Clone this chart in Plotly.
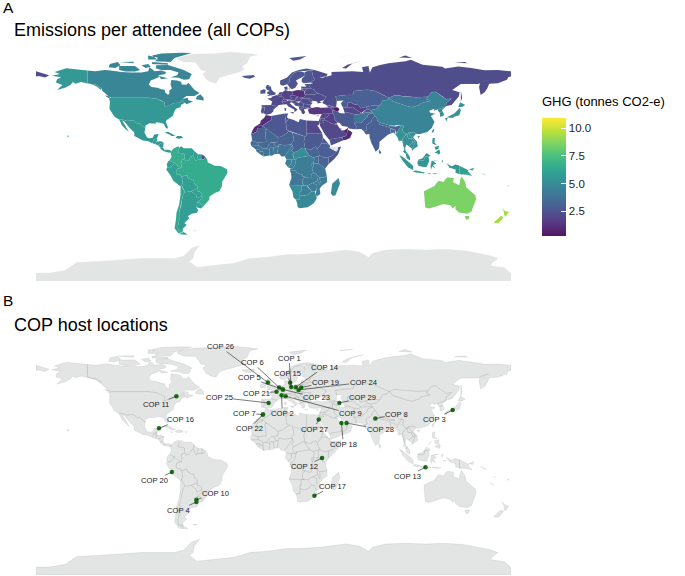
import plotly.graph_objects as go
from plotly.colors import sample_colorscale, sequential, hex_to_rgb

TITLE_A = "Emissions per attendee (all COPs)"
TITLE_B = "COP host locations"
LEGEND_TITLE = "GHG (tonnes CO2-e)"
LEGEND_TICKS = [2.5, 5.0, 7.5, 10.0]
GHG_MIN, GHG_MAX = 0.23, 10.95

COP_NAMES = [f"COP {i}" for i in range(1, 30)]
COP_LON = [13.4, 6.1, 135.8, -58.4, 7.1, 4.3, -8.0, 77.2, 9.2, -58.4, -73.6, 36.8, 115.2, 16.9, 12.6,
           -86.8, 31.0, 51.5, 21.0, -77.0, 2.3, -8.0, 7.1, 19.0, -3.7, -4.25, 34.3, 55.3, 49.9]
COP_LAT = [52.5, 46.2, 35.0, -34.6, 50.7, 52.1, 31.6, 28.6, 45.5, -33.0, 45.5, -1.3, -8.4, 52.4, 55.7,
           21.2, -29.9, 25.3, 52.2, -12.0, 48.9, 31.6, 50.7, 50.3, 40.4, 55.9, 27.9, 25.2, 40.4]

# Estimated GHG per country (tonnes CO2-e); None = no data (grey)
GHG = {
 "Canada":4.7,"USA":5.6,"Mexico":5.6,"Belize":5.6,"Guatemala":5.6,"Honduras":5.6,"Nicaragua":5.7,"CostaRica":5.7,"Panama":5.8,
 "Cuba":5.3,"Hispaniola":5.4,"Greenland":None,"Iceland":2.8,
 "Colombia":6.6,"Venezuela":6.0,"Guyana":5.9,"Suriname":5.9,"FrGuiana":1.8,"Brazil":6.5,"Ecuador":5.8,"Peru":5.9,"Bolivia":5.9,
 "Paraguay":5.9,"Uruguay":6.0,"Argentina":5.8,"Chile":6.3,"Falklands":None,"Antarctica":None,
 "Norway":2.6,"Sweden":2.5,"Finland":2.6,"Denmark":2.2,"UK":2.5,"Ireland":2.6,"France":2.0,"Spain":2.3,"Portugal":2.4,"Belgium":1.9,
 "Netherlands":1.9,"Germany":1.8,"Switzerland":1.9,"Austria":1.9,"Italy":2.1,"Poland":1.1,"Czechia":1.9,"Slovakia":2.0,"Hungary":2.0,
 "Croatia":2.1,"Bosnia":2.2,"Serbia":2.2,"Albania":2.2,"Greece":2.2,"Bulgaria":2.2,"Romania":2.2,"Moldova":2.2,"Ukraine":2.2,
 "Belarus":2.2,"Lithuania":2.1,"Latvia":2.2,"Estonia":2.2,"Turkey":1.4,"Cyprus":1.7,"Russia":2.2,
 "Georgia":1.7,"Armenia":1.5,"Azerbaijan":0.3,"Syria":1.9,"Jordan":1.9,"Israel":1.9,"Iraq":1.7,"Saudi":2.0,"Kuwait":1.7,"Yemen":2.3,
 "Oman":0.9,"UAE":0.7,"Qatar":0.8,"Iran":2.7,"Turkmenistan":2.1,"Uzbekistan":1.7,"Kazakhstan":3.0,"Kyrgyzstan":2.9,"Tajikistan":2.8,
 "Afghanistan":3.9,"Pakistan":2.9,"India":3.0,"Nepal":3.2,"Bhutan":3.8,"Bangladesh":3.6,"SriLanka":3.5,"China":4.6,"Mongolia":3.9,
 "NKorea":4.8,"SKorea":5.2,"Japan":5.3,"Taiwan":5.2,
 "Myanmar":5.4,"Thailand":5.1,"Laos":5.2,"Vietnam":5.2,"Cambodia":5.1,"Malaysia":5.3,"Indonesia":5.5,"PNG":5.9,"Philippines":5.5,
 "Australia":8.6,"Tasmania":8.6,"NZ":9.4,"NewCaledonia":8.8,"Fiji":9.3,"Vanuatu":9.0,"Solomon":8.0,
 "Morocco":1.1,"WSahara":0.9,"Algeria":2.6,"Tunisia":2.4,"Libya":2.6,"Egypt":2.0,"Sudan":2.7,"SSudan":3.2,"Eritrea":2.6,"Ethiopia":2.9,
 "Somaliland":None,"Somalia":2.5,"Kenya":3.1,"Uganda":3.6,"Tanzania":3.9,"Rwanda":3.7,"DRC":4.3,"Congo":4.4,"Gabon":4.4,"Cameroon":4.3,
 "CAR":5.1,"Chad":3.1,"Niger":3.1,"Mali":3.3,"Mauritania":3.1,"Senegal":3.5,"Guinea":3.7,"SierraLeone":3.7,"Liberia":3.7,"Ivory":3.8,
 "Burkina":3.5,"Ghana":3.8,"Benin":3.8,"Nigeria":3.8,"Angola":3.9,"Zambia":4.1,"Malawi":4.1,"Mozambique":4.2,"Zimbabwe":4.2,
 "Botswana":4.4,"Namibia":5.1,"SouthAfrica":4.8,"Madagascar":5.0,
}

# Simplified country outlines: "lon,lat lon,lat ..." for every ring
SHAPES = {
"Canada":["-141,69.6 -135,69 -128,70 -125,69.8 -115,68.5 -108,68 -100,68 -95,69 -94,72 -90,69 -85,69.5 -81.5,68.5 -82,67 -87,66 -87,64.5 -93,62 -94.5,59 -92.5,57 -88,56.5 -85,55.3 -82.5,55 -82,52.9 -80,51.2 -79,52 -79,54.5 -77,56 -78,58.7 -77.5,62.4 -73,62 -70,61 -69.5,59 -66,58.7 -64.5,60.3 -62,57.5 -60,55 -56,52.5 -60,50.2 -66,50.2 -69,48 -65,49 -64.5,47 -61,46 -66,44 -67,45.2 -69,47.2 -71,45.2 -75,45 -79,43.3 -83,42 -82.5,45.3 -84.8,46.7 -88.5,48.2 -95,49 -123,49 -125,50 -130,54.5 -130,56 -135,59 -137.5,59 -141,60.3",
 "-80,73.7 -72,71.5 -68,70 -62,67 -64,63 -68,62.5 -72,64 -78,64.5 -73,66 -72,68 -78,70 -85,70 -89,71 -89,73.5",
 "-117,70 -112,68.8 -105,68.8 -101,70 -105,73 -110,73 -117,73","-90,76.5 -78,76 -75,79 -65,82 -62,82.8 -70,83.1 -85,82.4 -92,81 -88,78",
 "-125,72 -120,71.5 -116,73.5 -118,76 -124,74.5","-92,76 -80,75 -80,74 -92,74.5","-100,73.5 -97,71.5 -93,72.5 -95,74.5","-117,76 -106,75 -106,76.3 -115,76.5",
 "-95,81 -88,79.5 -88,78 -95,78","-59,47.7 -53,46.8 -53,49 -55.5,51.5 -58,50","-87,65.5 -80,63.7 -85,63","-128,50.7 -125,48.7 -123.5,48.5 -125,50.3"],
"USA":["-123,49 -95,49 -88.5,48.2 -84.8,46.7 -82.5,45.3 -83,42 -79,43.3 -75,45 -71,45.2 -69,47.2 -67,45.2 -70,43.7 -70.5,41.7 -74,40.6 -75.5,38 -76,35.5 -78,34 -81,32 -81.5,30.5 -80,26.5 -80.5,25.2 -82,26.5 -83,29 -85,29.7 -89,30.3 -89.5,29.2 -94,29.5 -97,27.8 -97.2,25.9 -99.5,27.5 -101.5,29.8 -103,29 -104.8,30.5 -106.5,31.8 -111,31.3 -114.8,32.5 -117.1,32.5 -120.5,34.5 -122.5,37.5 -124.3,40.3 -124,46 -124.7,48.4",
 "-141,69.6 -141,60.3 -137.5,59 -135,59 -130,56 -131,55 -134,57.5 -138,59.2 -146,60.8 -150,59.5 -152,60.8 -154,58.5 -158,56.5 -164,54.7 -160,58.5 -165,60.5 -164,63 -161,64.5 -168,65.6 -162,67 -166,68.5 -157,71.2 -150,70.5",
 "-156,20.6 -155,19.5 -156,19 -156,20"],
"Mexico":["-117.1,32.5 -114.8,32.5 -111,31.3 -106.5,31.8 -104.8,30.5 -103,29 -101.5,29.8 -99.5,27.5 -97.2,25.9 -97.8,22.3 -95.8,18.8 -94,18.2 -91.5,18.6 -90.5,21 -87,21.5 -88.2,18.4 -89.1,17.8 -91,17.2 -91,16 -92.2,14.6 -95,16 -99,16.6 -105.5,20 -105.5,22.5 -109,26 -113,31 -114.7,31.6 -113,28.5 -110.5,24.5 -109.5,23 -112,25 -115,28 -116,30.5"],
"Belize":["-89.1,17.8 -88.2,18.4 -88.3,16 -89.1,16"],
"Guatemala":["-92.2,14.6 -91,16 -91,17.2 -89.1,17.8 -89.1,16 -88.3,15.7 -89.3,14.4 -90,13.8"],
"Honduras":["-89.3,14.4 -88.3,15.7 -85,16 -83.2,15 -84.7,14.7 -87.5,13 -90,13.8"],
"Nicaragua":["-83.2,15 -83.7,11 -85.7,11 -87.5,13 -84.7,14.7"],
"CostaRica":["-83.7,11 -82.6,9.5 -83,8.3 -85.7,10 -85.7,11"],
"Panama":["-82.6,9.5 -79.5,9.5 -77.3,8.6 -78,7.3 -80,7.5 -83,8.3"],
"Cuba":["-85,22 -80,23.2 -74.2,20.2 -77.5,19.9 -78,20.7 -82.5,22.6"],
"Hispaniola":["-74.4,18.4 -73,20 -70,19.9 -68.4,18.6 -71.5,17.8","-78.3,18.4 -76.3,18.2 -77,17.8","-67.2,18.4 -65.6,18.4 -65.6,18 -67.2,18"],
"Greenland":["-73,78.2 -68,76 -59,75.8 -55,70 -51,69 -53.5,67 -51,63 -48,61 -43.5,60 -41,64 -36,65.8 -26,68.5 -22,70.5 -24,73 -20,75 -18.5,78 -18,80 -12,81.5 -32,83.6 -45,82.2 -60,82 -66,81 -72,79.5"],
"Iceland":["-24,65.5 -22,64 -18,63.4 -14,64.8 -15,66.2 -21,66"],
"Colombia":["-77.3,8.6 -75.5,10.7 -72,12.2 -71.3,11 -72.5,7.5 -70,7 -67.5,6.2 -67.3,2.5 -70,1.7 -69.4,-1 -70,-4.2 -72.9,-2.4 -75.3,-0.1 -77.5,0.4 -78.8,1.4 -77.3,4 -78,7.3"],
"Venezuela":["-71.3,11 -70,12.2 -68,10.6 -64,10.5 -62,10.7 -60,8.5 -60.7,7 -61,5.2 -63,4 -64,1.5 -66.3,0.8 -67.3,2.5 -67.5,6.2 -70,7 -72.5,7.5"],
"Guyana":["-60,8.5 -57.2,6 -57.5,3.4 -57,2 -59,1.3 -60,4 -61,5.2 -60.7,7"],
"Suriname":["-57.2,6 -54,5.9 -54.3,2.3 -57,2 -57.5,3.4"],
"FrGuiana":["-54,5.9 -51.7,4.2 -52.9,2.2 -54.3,2.3"],
"Brazil":["-51.7,4.2 -50,1.7 -50,0 -44.5,-2.6 -40,-2.9 -35.2,-5.3 -34.8,-8 -37,-11.5 -39,-15 -39,-18 -41,-22 -44.5,-23.2 -48.5,-26 -48.7,-28.5 -53.4,-33.7 -55.5,-30.8 -57.6,-30.2 -53.8,-27 -54.6,-25.5 -54.2,-24 -55.7,-22.3 -58,-22 -58,-20 -57.7,-18 -60,-16.3 -60.5,-13.8 -65.3,-11.8 -65.4,-9.8 -70,-11 -70.5,-9.5 -73,-9.4 -74,-7.5 -73,-5 -70,-4.2 -69.4,-1 -70,1.7 -67.3,2.5 -66.3,0.8 -64,1.5 -63,4 -61,5.2 -60,4 -59,1.3 -57,2 -54.3,2.3 -52.9,2.2"],
"Ecuador":["-78.8,1.4 -77.5,0.4 -75.3,-0.1 -75.5,-1.5 -78.5,-4.5 -80.3,-3.4 -81,-2 -80,0.5"],
"Peru":["-80.3,-3.4 -78.5,-4.5 -75.5,-1.5 -75.3,-0.1 -72.9,-2.4 -70,-4.2 -73,-5 -74,-7.5 -73,-9.4 -70.5,-9.5 -70,-11 -69,-12.5 -69,-16 -69.5,-17.5 -70.4,-18.3 -76,-14 -78,-10 -81.3,-5.5"],
"Bolivia":["-70,-11 -65.4,-9.8 -65.3,-11.8 -60.5,-13.8 -60,-16.3 -57.7,-18 -58,-20 -62.5,-22 -67,-22.8 -68.5,-20 -69.5,-17.5 -69,-16 -69,-12.5"],
"Paraguay":["-58,-20 -58,-22 -55.7,-22.3 -54.2,-24 -54.6,-25.5 -58,-27.3 -58.6,-25 -62.5,-22"],
"Uruguay":["-57.6,-30.2 -55.5,-30.8 -53.4,-33.7 -55,-35 -58.4,-34"],
"Argentina":["-67,-22.8 -62.5,-22 -58.6,-25 -58,-27.3 -54.6,-25.5 -53.8,-27 -57.6,-30.2 -58.4,-34 -57,-36.5 -58,-38.3 -62,-39 -65,-41 -63.8,-42.5 -67.5,-46 -65.8,-47.5 -69,-50.5 -68.4,-52.3 -72,-52 -72.5,-49 -71.5,-44 -71.5,-38 -70,-33 -69.5,-29 -68.5,-24.5",
 "-68.6,-52.7 -65,-54.8 -68.6,-54.9"],
"Chile":["-70.4,-18.3 -69.5,-17.5 -68.5,-20 -67,-22.8 -68.5,-24.5 -69.5,-29 -70,-33 -71.5,-38 -71.5,-44 -72.5,-49 -72,-52 -68.4,-52.3 -72,-54 -75,-50 -74,-44 -73.5,-38 -71.5,-32 -70.5,-25",
 "-69,-52.7 -68.6,-54.8 -71.5,-54.5"],
"Falklands":["-61,-51.8 -58,-51.5 -58.5,-52.2 -60.5,-52.3"],
"Antarctica":["-180,-84 -170,-84 -158,-82 -149,-76 -130,-75 -115,-74 -101,-73 -90,-73 -75,-73 -68,-71 -62,-65 -56,-63 -60,-68 -61,-73 -64,-75 -58,-79.6 -45,-78 -30,-76.6 -18,-73 -5,-72 10,-70 20,-70 35,-69 45,-67.5 55,-66.5 65,-68 72,-72 75,-69 85,-66.5 100,-66 115,-66.5 130,-66 145,-67 155,-69 165,-71 170,-73 165,-77 165,-78.5 175,-80 180,-84.5 180,-90 -180,-90"],
"Norway":["5,59 7,58 10.5,59.2 12,61 12,63.5 14.5,66 16,68 20,69 25,69 29,69.5 31,70 25,71 19,70 14,68 10,64 5,62","12,79 25,80.5 20,78 15,77"],
"Sweden":["12,61 10.5,59.2 12.5,56.3 14,55.4 16.5,56.5 18.5,59.5 17,62 21,64.5 24,65.8 23.5,68 20,69 16,68 14.5,66 12,63.5"],
"Finland":["24,65.8 21.5,63.5 21.3,61 23,60 28,60.5 31.5,62.8 30,65 29,69.5 25,69 23.5,68"],
"Denmark":["8,57 10.5,57.5 10.8,55 8.6,54.9","11.2,55.7 12.5,56 12.3,55"],
"UK":["-5.5,50.1 1.3,51.2 1.7,52.7 0,53.5 -1.5,55 -2,57.5 -4,57.8 -3,58.6 -5,58.6 -6,56.5 -4.8,55 -3,54 -4.8,53.2 -4.8,52 -3,51.4"],
"Ireland":["-10,52 -6.3,52.2 -6,54 -5.6,54.8 -7.5,55.3 -10,54.2"],
"France":["-1.8,43.4 -1,46 -4.7,48.3 -1.5,48.7 -1.5,49.7 2.5,51 4.2,50 6,50 8.2,49 7.6,47.6 6.2,46.3 7.6,43.8 4,43.4 3.1,42.5"],
"Spain":["-9.2,43.2 -1.8,43.4 3.1,42.5 0,40 0,38.7 -2,36.8 -5.5,36 -7.5,37.2 -7,39.5 -6.5,41.5 -7,42 -8.8,42"],
"Portugal":["-8.8,42 -7,42 -6.5,41.5 -7,39.5 -7.5,37.2 -9,37 -9.5,38.7"],
"Belgium":["2.5,51 3.4,51.4 5.8,51.1 6,50 4.2,50"],
"Netherlands":["3.4,51.4 4.7,53 7,53.3 6,51.8 5.8,51.1"],
"Germany":["6,51.8 7,53.3 9,54.8 11,54 14.2,53.9 14.8,51 12.2,50.3 13.8,48.7 13,47.5 7.6,47.6 8.2,49 6,50 5.8,51.1"],
"Switzerland":["6.2,46.3 7.6,47.6 10,47.5 10.3,46.5 8.5,46"],
"Austria":["9.6,47.5 13,47.5 13.8,48.7 17,48.7 16.2,46.8 12,46.8"],
"Italy":["6.2,46.3 7.6,43.8 10,44 11,42.4 15.7,40 16,38 18.3,40 16.8,41 13.7,43.5 12.3,45 13.7,45.6 13.5,46.5 12,46.8 10.3,46.5 8.5,46","12.5,38 15.5,38.2 15,36.7","8.2,41 9.7,41 9.5,39 8.5,39"],
"Poland":["14.2,53.9 18.5,54.8 23,54.3 24,50.6 22.5,49.1 19,49.4 14.8,51"],
"Czechia":["12.2,50.3 14.8,51 19,49.4 17,48.7 13.8,48.7"],
"Slovakia":["17,48.7 19,49.4 22.5,49.1 22,48.3 18,47.8"],
"Hungary":["16.2,46.8 17,48.7 18,47.8 22,48.3 20.3,46.2 17,45.9"],
"Croatia":["13.5,46.5 16.2,46.8 17,45.9 19.3,45 16,45 16,43.5 18.5,42.4 14.5,45.2 13.7,45.6"],
"Bosnia":["16,45 19.3,45 19.3,43 18.5,42.4 16,43.5"],
"Serbia":["19.3,45 20.3,46.2 22.7,44.3 22.5,42.3 20.5,42 18.5,42.4 19.3,43"],
"Albania":["19.4,42 20.5,42 22.5,42.3 23,41.2 20.8,40.8 20,39.7 19.4,40.5"],
"Greece":["20,39.7 20.8,40.8 23,41.2 26.3,41.5 26,40.8 23,40.2 24,38 23,36.5 21.5,37 21,38.8","23.5,35.5 26.2,35.2 24.8,34.9"],
"Bulgaria":["22.5,42.3 22.7,44.3 28.5,43.7 27.8,42 26.3,41.5 23,41.2"],
"Romania":["20.3,46.2 22,48.3 26.5,48.2 28.2,45.5 29.7,45.2 28.5,43.7 22.7,44.3"],
"Moldova":["26.5,48.2 28,48.2 30,46.4 28.2,45.5"],
"Ukraine":["24,50.6 24,51.6 30.8,51.4 34,52.3 40,49.6 38.2,47.1 35,46.3 36.5,45.3 33.5,44.5 33,46 30.7,46.5 30,46.4 28,48.2 26.5,48.2 22,48.3 22.5,49.1"],
"Belarus":["24,51.6 23.5,53.9 26,55.7 28,56.2 31,55 32,53 34,52.3 30.8,51.4"],
"Lithuania":["21,56 26,55.7 23.5,53.9 23,54.3 22,55.2 21,55.3"],
"Latvia":["21,56 21,57.5 24.3,57.2 25,58 27.5,57.6 28,56.2 26,55.7"],
"Estonia":["23.5,59.2 28,59.5 27.5,57.6 25,58 24.3,58"],
"Turkey":["26,40 27,37 30.5,36.3 36,36.7 36.7,36.8 42.5,37.2 44.7,37.2 44.6,39.7 43.5,41.1 41.5,41.5 36,41.3 33,42 29,41.2","26.3,41.7 28,42 29,41.2 26.5,40.5"],
"Cyprus":["32.3,35 34.5,35.6 33.8,34.8"],
"Russia":["38.2,47.1 40,49.6 34,52.3 32,53 31,55 28,56.2 27.5,57.6 28,59.5 30,60 28,60.5 31.5,62.8 30,65 29,69.5 31,70 33,69.4 41,67 40,65 35,64.5 37,64 40,64.7 44,66 44,68.5 54,68.8 60,69 68,68.5 67,72 72,73 73,68 75,72 80,73.5 87,75 100,76.5 104,77.7 113,74 128,72.5 130,71 140,72.7 150,71.5 160,69.7 170,70 180,69 180,65 178,64.7 177,62.5 170,60 163.5,59.5 162,56 160,53 157,51 155.8,56.8 156.7,61 163,62.3 155,59.4 142,59.3 135.5,54.7 141,53 140.5,50 135,43.5 131,42.7 130.7,42.3 131,45 135,48.4 131,47.7 127.5,50 123,53.5 120,53 117,49.6 108,49.3 98,50 92,50.8 87.5,49 83,51 77,54 71,55 61,54 60,51 55,51 47,50 48,46.5 47.5,42 48.5,41.8 47.5,41.2 46.5,41.8 44,42.6 40,43.5 37,45",
 "-180,69 -175,67.5 -170,66 -173,64.3 -178,65.5 -180,65","52,71.5 56,74 68,77 60,75 55,71","95,79.5 105,79 100,81","50,80 60,81 55,81","142,54 143,49 142,46 142,50","137,75.5 147,75 145,76","20,54.3 23,54.3 22,55.2 21,55.3"],
"Georgia":["40,43.5 44,42.6 46.5,41.8 45,41.2 43.5,41.1 41.5,41.5"],
"Armenia":["43.5,41.1 45,41.2 46.5,39 44.6,39.7"],
"Azerbaijan":["45,41.2 46.5,41.8 47.5,41.2 48.5,41.8 50,40.3 49,38.4 46.5,39"],
"Syria":["36.7,36.8 42.5,37.2 41,34.5 38.8,33.4 36,33 35,33.2 35.8,35"],
"Jordan":["36,33 38.8,33.4 39,32 37,31.5 38,30 35,29.5 35.5,32.5"],
"Israel":["35,33.2 36,33 35.5,32.5 35,29.5 34.3,31.3"],
"Iraq":["42.5,37.2 44.7,37.2 46,35.5 46,33 48.5,30 47.7,30 46.5,29 44.5,29.2 39,32 38.8,33.4 41,34.5"],
"Kuwait":["46.5,29 47.7,30 48.4,28.5"],
"Saudi":["35,29.5 38,30 37,31.5 39,32 44.5,29.2 46.5,29 48.4,28.5 50,26 50.8,24.8 51.6,24 55.2,22.7 55.7,22 55,20 52,19 49,18.5 43.5,17.5 42.7,16.5 39,21 37,25 35,28"],
"Yemen":["43.5,17.5 49,18.5 52,19 53,16.7 45,12.8 43.5,12.7 42.7,16.5"],
"Oman":["52,19 55,20 55.7,22 56.3,24.8 59.8,22.5 58,18.5 55,17 53,16.7"],
"UAE":["51.6,24 55.2,22.7 55.7,22 56.3,24.8 56.4,26.1 54,24.2"],
"Qatar":["50.8,24.8 51.5,25 51.2,26.1 50.8,25.7"],
"Iran":["44.6,39.7 46.5,39 49,38.4 50,37.4 54,37 54,37.3 56,38 61,36.5 61,31.5 61,29.5 63,27 61.5,25 57,25.7 56,27 52,27.5 50,30 48.5,30 46,33 46,35.5 44.7,37.2"],
"Turkmenistan":["52.5,41.7 56,41.3 57,41.3 60,42 61,41 66.5,37.4 64.5,36 61,36.5 56,38 54,37.3 53.5,39.5"],
"Uzbekistan":["56,45 58.5,45.5 61,44 64.5,43.5 66,41 70,42 71,40.5 68,38 66.5,37.4 61,41 60,42 57,41.3 56,41.3"],
"Kazakhstan":["47,50 55,51 60,51 61,54 71,55 77,54 83,51 87.5,49 85.5,47 83,47 80.5,42.9 75,43 70,42 66,41 64.5,43.5 61,44 58.5,45.5 56,45 56,41.3 52.5,41.7 51,44.5 53,46.8 48,46.5"],
"Kyrgyzstan":["70,42 75,43 80.5,42.9 78,40.5 73.5,39.5 71,40.5"],
"Tajikistan":["68,38 71,40.5 73.5,39.5 75,37.4 71,38 68,37.2"],
"Afghanistan":["61,36.5 64.5,36 66.5,37.4 68,37.2 71,38 75,37.4 71.5,36 71,34 69.5,33 66.5,30 61,29.5 61,31.5"],
"Pakistan":["61,29.5 66.5,30 69.5,33 71,34 71.5,36 75,37.4 77,35 74.5,32.5 74.5,31 70,28 71,24.5 68.5,23.5 66.5,25.2 61.5,25 63,27"],
"India":["74.5,32.5 77,35 78.5,33 78.7,31.5 81,30 80,28.7 88,26.4 88.2,27.9 88.8,27.5 92,26.9 97,28.3 95,25 93.3,22 92.3,24.5 89.8,25.3 88.7,26 88.5,24.5 89,21.8 87,21 85,19.5 80.3,15.5 80.3,13 79.8,10.3 77.5,8 76,11 74,15 72.8,19 72.7,21.5 70,21 68.5,23.5 71,24.5 70,28 74.5,31"],
"Nepal":["81,30 80,28.7 88,26.4 88.2,27.9"],
"Bhutan":["88.8,27.5 92,26.9 92,28"],
"Bangladesh":["88.5,24.5 88.7,26 89.8,25.3 92.3,24.5 92.3,21 91,22.5 89,21.8"],
"SriLanka":["80,9.7 81.8,7.5 80.5,6 79.8,8"],
"China":["73.5,39.5 78,40.5 80.5,42.9 83,47 85.5,47 87.5,49 91,46 95.5,44.3 101,42.6 105,41.7 111,43.7 111.5,44.8 119,46.7 116,47.8 117,49.6 120,53 123,53.5 127.5,50 131,47.7 135,48.4 131,45 130.7,42.3 128,41.5 124.3,40 121.5,39 122,40.5 118,39 119,37.3 122.5,37 119.3,35 122,30.8 120,26 116.5,23 110.5,21.2 108,21.6 106.5,22.9 102,22.4 101.7,21.2 99.5,22 97.6,24 98.7,27.5 97,28.3 92,28 88.8,27.5 88.2,27.9 81,30 78.7,31.5 78.5,33 77,35 75,37.4","109,19.7 111,20 110,18.3"],
"Taiwan":["121,25 122,25 120.8,22 120,23.5"],
"Mongolia":["87.5,49 92,50.8 98,50 108,49.3 117,49.6 116,47.8 119,46.7 111.5,44.8 111,43.7 105,41.7 101,42.6 95.5,44.3 91,46"],
"NKorea":["124.3,40 128,41.5 130.7,42.3 127.5,39.5 128.3,38.5 126,37.8 125,38.5"],
"SKorea":["126,37.8 128.3,38.5 129.4,36 128,34.8 126.3,34.6"],
"Japan":["131,34 135,35.7 137,37 140,40 141.3,41.4 142,39.5 140.8,35.7 137,34.6 135.5,33.6 132.5,34","130,33.5 132,33.5 131,31","140,42 141.5,45.5 145.3,43.5 143,42"],
"Myanmar":["92.3,21 93.3,22 95,25 97,28.3 98.7,27.5 97.6,24 99.5,22 101.2,21.2 100,20.3 97.7,17.5 98.7,14 99.2,10 98.5,12 97.5,16.5 95,16 94.3,18.5"],
"Thailand":["100,20.3 101.2,21.2 102,18 104.5,18 105.6,15 102.5,12.2 100.8,13.4 99.8,11 100,9 101.8,6.5 100.2,6.4 98.3,8 99.2,10 98.7,14 97.7,17.5"],
"Laos":["101.2,21.2 101.7,21.2 102,22.4 105,19 107.5,15.5 105.6,15 104.5,18 102,18"],
"Vietnam":["102,22.4 106.5,22.9 108,21.6 105.8,19 108.8,15.5 109.3,12 106.7,10.4 105,8.7 104.8,10.4 106,11.5 107.5,15.5 105,19"],
"Cambodia":["102.5,12.2 105.6,15 107.5,15.5 106,11.5 104.8,10.4"],
"Malaysia":["100.2,6.4 101.8,6.5 103.4,4 103.5,1.4 101,3","109.6,1.9 113,3 116,7 119,5 117.5,4.2 115,4.5 114,1.5 110,1"],
"Indonesia":["109.6,1.9 110,1 114,1.5 115,4.5 117.5,4.2 118,1 116,-3.5 114,-3.5 110,-2.8 109,-0.5","95.3,5.6 98,4 103.5,-0.5 106,-3 105.8,-5.8 102,-4 98,1","105.2,-6.8 108,-6.2 114.5,-7.8 114.3,-8.6 108,-7.8",
 "119.8,1 125,1.5 121,0.5 123.5,-0.9 121,-2 122.7,-5 120.3,-3 119.5,-5.5 119,-3","116,-8.4 119,-8.3 119,-9","120,-8.5 125,-8.3 122,-9","123.5,-10 127,-8.5 124.5,-9","131,-0.8 135,-3 138,-1.7 141,-2.6 141,-9 138,-8 138,-5.5 133,-4 132.8,-3","127.5,1.5 128.5,1.3 128,-0.8","128,-3.2 130.8,-3.5 128.5,-3.5"],
"PNG":["141,-2.6 145,-4.5 147.7,-6 147.5,-7 150.5,-10.4 147,-9.5 143.5,-9 141,-9","148,-5.5 152,-4.2 151,-6.2"],
"Philippines":["120.3,16 120.7,18.5 122.3,18.4 122,15 124,13 121.7,13.8 120.5,14","122,7 125.5,9.8 126.5,7.5 125.5,5.8 124,6.8","122,11.5 125.5,12.5 125,10.2 123,9.3","117.2,8.4 119.5,11.3 119,10"],
"Australia":["114,-22 114.2,-26 115,-34.2 118,-35 124,-33 129,-31.6 134,-32.5 136,-35 138,-33 137.8,-35.5 140.5,-38 144,-38.5 146.5,-39 150,-37.5 151.5,-33 153.5,-28 153,-25 149.5,-22 146,-19 145.3,-15 142.5,-10.8 141.5,-13 140.8,-17.5 136,-15 136.8,-12.2 132,-11.3 130,-13 129,-15 125,-14 122,-18 117,-20.5"],
"Tasmania":["145,-40.8 148.2,-40.8 148,-43 146,-43.5"],
"NZ":["173,-34.5 175.5,-37 178.5,-37.7 175.5,-41.5 174.8,-39.5 174.5,-37","172.7,-40.6 174.3,-41.7 172.8,-43.7 170.5,-46 167,-46.2 168,-44.5"],
"NewCaledonia":["164,-20 167,-22.3 166,-22"],
"Fiji":["177.3,-17.5 178.7,-17.5 178,-18.3"],
"Vanuatu":["167,-15 168,-16.5 167,-16"],
"Solomon":["157,-8 160,-9 161,-10"],
"Morocco":["-5.9,35.8 -2,35 -1.2,32.5 -5,30 -8.7,27.7 -13,27.7 -10,29.5 -9.7,31.5 -7,33.7"],
"WSahara":["-13,27.7 -8.7,27.7 -8.7,26 -12,26 -13,23 -17,21.3 -16,24 -14.5,26.5"],
"Algeria":["-2,35 8.5,37 9,33 9.5,30 10,24.5 12,23.5 5.8,19.4 3.3,19 -4.8,25 -8.7,27.7 -5,30 -1.2,32.5"],
"Tunisia":["8.5,37 11,37 10.2,34 11.5,33.2 9.5,30 9,33"],
"Libya":["11.5,33.2 15,32.3 19,30.3 20,32.8 25,31.6 25,20 24,19.5 14.2,22.6 12,23.5 10,24.5 9.5,30"],
"Egypt":["25,31.6 34.3,31.3 34.9,29.5 34,27.8 33,28.5 35.5,24 36.9,22 25,22"],
"Sudan":["25,22 36.9,22 37.5,18.7 36.4,14.3 34,11 33,10 32,12 28,9.5 24,10.5 23,15.7 24,19.5 25,20"],
"SSudan":["24,10.5 28,9.5 32,12 33,10 34,8.5 35,5 30,3.6 27.5,5 24.5,8.7"],
"Eritrea":["36.4,14.3 37.5,18.7 43,12.6 40,14.5"],
"Ethiopia":["36.4,14.3 40,14.5 43,12.6 42.5,11 48,8 44.9,5 41.8,4 39,3.5 35,5 34,8.5 33,10 34,11"],
"Somaliland":["42.5,11 43.3,11.5 48.9,11.4 48.9,9.5 48,8"],
"Somalia":["48.9,11.4 51.2,11.9 49,6 46,2.5 41.5,-1.7 41.8,4 44.9,5 48,8 48.9,9.5"],
"Kenya":["35,5 39,3.5 41.8,4 41.5,-1.7 39.2,-4.7 37.7,-3.6 34,-1 34,4"],
"Uganda":["30,3.6 35,5 34,4 34,-1 30,-1.2 31,2.3"],
"Tanzania":["30,-1.2 34,-1 37.7,-3.6 39.2,-4.7 39.5,-6.5 40.4,-10.4 37.5,-11.7 34.7,-11.5 33,-9.5 30.5,-8.2 29.5,-6 29.2,-4.4 30.5,-3"],
"Rwanda":["29,-1.2 30,-1.2 30.5,-3 29.2,-4.4"],
"DRC":["12.3,-6 13,-4.7 14.5,-4.5 16.2,-2 17.5,3.5 18.5,3.5 22,4 27.5,5 30,3.6 31,2.3 30,-1.2 29,-1.2 29.2,-4.4 29.5,-6 30.5,-8.2 28.5,-9.5 28.5,-12 25,-11.8 24,-11 22,-11 22,-9.5 17.5,-8 16.5,-6"],
"Congo":["11.2,-4 13,-4.7 14.5,-4.5 16.2,-2 17.5,3.5 18.5,3.5 16,2 13.3,2.2 14,-1 12,-2.5"],
"Gabon":["9.5,1 9.8,2.3 11.3,2.2 13.3,2.2 14,-1 12,-2.5 11.2,-4 8.8,-1"],
"Cameroon":["8.5,4.5 9.8,2.3 11.3,2.2 13.3,2.2 16,2 15,4 14.5,6 15.5,7.5 13.5,9 15,10.2 14.5,13 13,11 9.5,6.4"],
"CAR":["14.5,6 15.5,7.5 19,9 22,11 24,10.5 24.5,8.7 27.5,5 22,4 18.5,3.5 16,2 15,4"],
"Chad":["14.2,22.6 24,19.5 23,15.7 24,10.5 22,11 19,9 15.5,7.5 13.5,9 15,10.2 14.5,13 13.5,14 15.5,16.8 15,20"],
"Niger":["3.3,19 5.8,19.4 12,23.5 14.2,22.6 15,20 15.5,16.8 13.5,14 14.5,13 13,13.5 8,13 4,13.7 3.6,11.7 2.3,12 1,13 0.2,14.9 3.5,15.4"],
"Mali":["-4.8,25 3.3,19 3.5,15.4 0.2,14.9 -2,15 -5.5,10.5 -8,10.3 -8.5,11 -11.3,12.5 -12,14.8 -5.5,15.5 -6.5,25"],
"Mauritania":["-8.7,27.7 -4.8,25 -6.5,25 -5.5,15.5 -12,14.8 -16.3,16.5 -16.5,19 -17,21.3 -13,23 -12,26 -8.7,26"],
"Senegal":["-16.3,16.5 -12,14.8 -11.3,12.5 -16.8,12.4 -17.5,14.7"],
"Guinea":["-16.8,12.4 -11.3,12.5 -8.5,11 -8,10.3 -8,8 -10,8.4 -10.5,9.5 -13.2,9.5 -15,11"],
"SierraLeone":["-13.2,9.5 -10.5,9.5 -10,8.4 -11.5,7 -13.2,8.5"],
"Liberia":["-11.5,7 -10,8.4 -8,8 -7.5,4.4"],
"Ivory":["-8,8 -8,10.3 -5.5,10.5 -2.8,9.5 -3,5.1 -7.5,4.4"],
"Burkina":["-5.5,10.5 -2,15 0.2,14.9 1,13 2.3,12 0,11 -2.8,11 -2.8,9.5"],
"Ghana":["-2.8,11 0,11 0.5,6 -1,5 -3,5.1 -2.8,9.5"],
"Benin":["0,11 2.3,12 3.6,11.7 2.7,6.3 0.5,6"],
"Nigeria":["2.7,6.3 3.6,11.7 4,13.7 8,13 13,13.5 14.5,13 13,11 9.5,6.4 8.5,4.5 6,4.3 4.5,6.3"],
"Angola":["12.3,-6 16.5,-6 17.5,-8 22,-9.5 22,-11 24,-11 22,-13 22,-16.3 23.3,-17.5 13.5,-17.3 11.8,-17.3 13.6,-12 13.3,-8.5"],
"Zambia":["24,-11 25,-11.8 28.5,-12 28.5,-9.5 30.5,-8.2 33,-9.5 33,-12 33.5,-14 30,-15.5 28,-16.5 25.5,-17.8 23.3,-17.5 22,-16.3 22,-13"],
"Malawi":["33,-9.5 34.7,-11.5 35.5,-14.5 35,-17 33.5,-14 33,-12"],
"Mozambique":["34.7,-11.5 37.5,-11.7 40.4,-10.4 40.7,-15 36.5,-18 35,-20 35.5,-24 32.8,-26 32,-24.5 32.8,-20 33,-17 30.3,-16 30,-15.5 33.5,-14 35,-17 35.5,-14.5"],
"Zimbabwe":["25.5,-17.8 28,-16.5 30,-15.5 30.3,-16 33,-17 32.8,-20 31.5,-22.3 29,-22 26,-19"],
"Botswana":["21,-18 23.3,-17.5 25.5,-17.8 26,-19 29,-22 26,-24.7 23,-25.3 20,-24.8 20,-22 21,-22"],
"Namibia":["11.8,-17.3 13.5,-17.3 23.3,-17.5 21,-18 21,-22 20,-22 20,-28.4 17,-28.5 15,-26.5 14.5,-22.5"],
"SouthAfrica":["17,-28.5 20,-28.4 20,-24.8 23,-25.3 26,-24.7 29,-22 31.5,-22.3 32,-24.5 32.8,-26 32.8,-27.5 30.5,-31 26,-34 20,-34.8 18.3,-34 18,-31.5"],
"Madagascar":["49.3,-12 50.4,-16 47,-25 45,-25.5 43.5,-23.5 44.5,-16.3"],
}

# --- layout constants (pixels in the 685x576 page) ---
W, H = 685, 576
MAP_L, MAP_R = 36, 511
A_T, A_B = 52, 281
B_T, B_B = 346, 575
FONT = "Liberation Sans"
GREY = "#e3e4e4"
LON_RANGE = [-180, 180]
LAT_RANGE = [-90, 83.6]
# centre of each COP label, in page pixels
LABEL_PX = {"COP 1":(289,358),"COP 2":(282.3,413),"COP 3":(434,419.3),"COP 4":(178.7,510.3),"COP 5":(249,377.7),"COP 6":(252.3,362.3),
 "COP 7":(244.3,413),"COP 8":(396.7,414),"COP 9":(350.7,413.7),"COP 10":(215,493),"COP 11":(156,404.3),"COP 12":(304,466.7),"COP 13":(407.3,476),
 "COP 14":(324.3,367),"COP 15":(287.3,373.3),"COP 16":(180,419.7),"COP 17":(332.7,486.3),"COP 18":(343.3,444.3),"COP 19":(325.3,382.7),"COP 20":(154,480.3),
 "COP 21":(256,393.3),"COP 22":(249.3,428.7),"COP 23":(316.7,397.7),"COP 24":(363.3,382.3),"COP 25":(219,397.3),"COP 26":(220,346.7),"COP 27":(314,429),
 "COP 28":(380,429.3),"COP 29":(362.7,397.7)}

def rings_xy(rings):
    xs, ys = [], []
    for r in rings:
        pts = [tuple(map(float, p.split(","))) for p in r.split()]
        pts.append(pts[0])
        xs += [p[0] for p in pts] + [None]
        ys += [p[1] for p in pts] + [None]
    return xs, ys

ALPHA = 0.92
def soften(hexc):
    r, g, b = hex_to_rgb(hexc)
    return "rgb(%d,%d,%d)" % tuple(round(c * ALPHA + 255 * (1 - ALPHA)) for c in (r, g, b))
vir = sequential.Viridis
SCALE = [[i / (len(vir) - 1), soften(c)] for i, c in enumerate(vir)]

fig = go.Figure()
for name, rings in SHAPES.items():
    x, y = rings_xy(rings)
    v = GHG[name]
    col = GREY if v is None else sample_colorscale(SCALE, (v - GHG_MIN) / (GHG_MAX - GHG_MIN))[0]
    fig.add_trace(go.Scatter(x=x, y=y, mode="lines", fill="toself", fillcolor=col,
                             line=dict(color=col if v is None else "rgba(200,215,215,0.12)", width=0.4), xaxis="x", yaxis="y",
                             hoverinfo="skip", showlegend=False))
bx, by = [], []
for rings in SHAPES.values():
    x, y = rings_xy(rings)
    bx += x; by += y
fig.add_trace(go.Scatter(x=bx, y=by, mode="lines", fill="toself", fillcolor=GREY,
                         line=dict(color="rgba(150,150,150,0.5)", width=0.35), xaxis="x2", yaxis="y2",
                         hoverinfo="skip", showlegend=False))
fig.add_trace(go.Scatter(x=COP_LON, y=COP_LAT, mode="markers", marker=dict(color="#1c6f14", size=4.5),
                         xaxis="x2", yaxis="y2", hoverinfo="skip", showlegend=False))
# colour bar carrier
BAR_T, BAR_B = 118, 236
fig.add_trace(go.Scatter(x=[None], y=[None], mode="markers", xaxis="x", yaxis="y", showlegend=False,
    marker=dict(color=[GHG_MIN, GHG_MAX], cmin=GHG_MIN, cmax=GHG_MAX, colorscale=SCALE, showscale=True,
        colorbar=dict(x=542 / W, xanchor="left", xpad=0, ypad=0, y=1 - (BAR_T + BAR_B) / 2 / H, yanchor="middle",
            lenmode="pixels", len=BAR_B - BAR_T, thicknessmode="pixels", thickness=24, outlinewidth=0,
            tickmode="array", tickvals=LEGEND_TICKS, ticktext=[f"{t:.1f}" for t in LEGEND_TICKS],
            ticks="inside", ticklen=5, tickwidth=0.6, tickcolor="white",
            tickfont=dict(family=FONT, size=11.5, color="#222")))))

def axis(dom, rng):
    return dict(domain=dom, range=rng, visible=False, fixedrange=True)

lon_per_px = 360 / (MAP_R - MAP_L)
lat_per_px = (LAT_RANGE[1] - LAT_RANGE[0]) / (B_B - B_T)
ann = []
for n, lon, lat in zip(COP_NAMES, COP_LON, COP_LAT):
    px, py = LABEL_PX[n]
    ann.append(dict(x=lon, y=lat, xref="x2", yref="y2", axref="x2", ayref="y2",
                    ax=-180 + (px - MAP_L) * lon_per_px, ay=LAT_RANGE[1] - (py - B_T) * lat_per_px,
                    text=n, showarrow=True, arrowhead=0, arrowwidth=0.6, arrowcolor="#222", standoff=0,
                    font=dict(family=FONT, size=7.6, color="#222"), borderpad=0))
def text(s, x, y, size):
    ann.append(dict(x=x / W, y=1 - y / H, xref="paper", yref="paper", xanchor="left", yanchor="middle",
                    text=s, showarrow=False, font=dict(family=FONT, size=size, color="black")))
text("A", 1, 8, 15.5)
text(TITLE_A, 12, 30, 18)
text("B", 1, 300, 15.5)
text(TITLE_B, 12, 325, 18)
text(LEGEND_TITLE, 540, 101, 13)

# white ticks on the left edge of the colour bar
shapes = []
for t in LEGEND_TICKS:
    yp = BAR_B - (t - GHG_MIN) / (GHG_MAX - GHG_MIN) * (BAR_B - BAR_T)
    shapes.append(dict(type="line", xref="paper", yref="paper", x0=542 / W, x1=547 / W, y0=1 - yp / H, y1=1 - yp / H,
                       line=dict(color="white", width=0.6)))

fig.update_layout(width=W, height=H, autosize=False, margin=dict(l=0, r=0, t=0, b=0),
    paper_bgcolor="white", plot_bgcolor="white", annotations=ann, shapes=shapes,
    xaxis=axis([MAP_L / W, MAP_R / W], LON_RANGE), yaxis=axis([1 - A_B / H, 1 - A_T / H], LAT_RANGE),
    xaxis2=axis([MAP_L / W, MAP_R / W], LON_RANGE), yaxis2=axis([1 - B_B / H, 1 - B_T / H], LAT_RANGE),
    font=dict(family=FONT))
fig.write_html("out.html", post_script="document.body.style.margin='0';", config={"displayModeBar": False})
